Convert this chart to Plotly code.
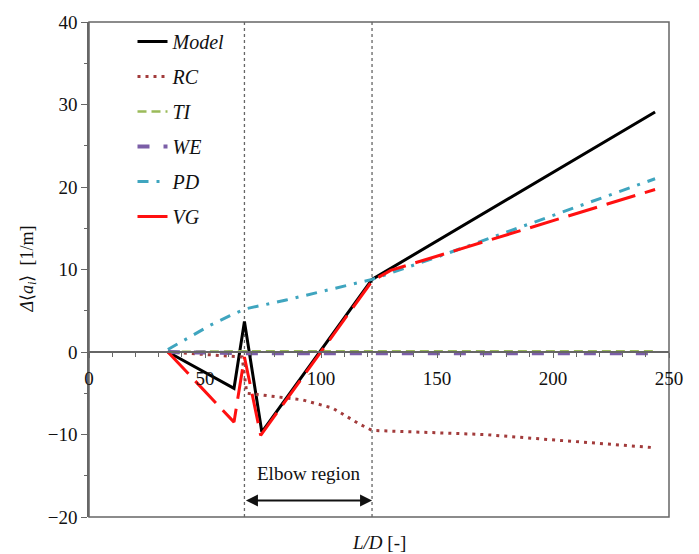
import plotly.graph_objects as go

# ---- data ----
model_x = [34, 62.5, 67, 74.5, 122, 244]
model_y = [0, -4.4, 3.7, -9.7, 8.8, 29.1]

rc_x = [34, 50, 66, 68, 80, 92, 105, 117, 122, 170, 244]
rc_y = [0, -0.3, -0.6, -5.0, -5.4, -5.8, -6.8, -8.8, -9.5, -10.0, -11.6]

ti_x = [34, 67, 122, 244]
ti_y = [0, 0.1, 0.1, 0.1]

we_x = [34, 67, 122, 244]
we_y = [0, -0.15, -0.15, -0.15]

pd_x = [34, 43.5, 52, 60.8, 67, 85, 122, 150, 244]
pd_y = [0.3, 1.8, 3.2, 4.4, 5.2, 6.3, 8.8, 11.5, 21.0]

vg_x = [34, 62.5, 67, 74, 122, 130, 244]
vg_y = [0, -8.5, -0.6, -10.1, 8.6, 9.9, 19.7]

elbow_start = 67
elbow_end = 122

x_range = [0, 250]
y_range = [-20, 40]
y_ticks = [-20, -10, 0, 10, 20, 30, 40]
x_ticks = [0, 50, 100, 150, 200, 250]

FONT = "Liberation Serif"
AXC = "#666666"

fig = go.Figure()

series = [
    ("Model", model_x, model_y, "#000000", 3, "solid"),
    ("RC", rc_x, rc_y, "#a23b3b", 3, "3px,5px"),
    ("TI", ti_x, ti_y, "#9bbb59", 2.5, "9px,5px"),
    ("WE", we_x, we_y, "#7b5ea7", 4, "12px,14px"),
    ("PD", pd_x, pd_y, "#3fa5bf", 3, "11px,8px,3px,8px"),
    ("VG", vg_x, vg_y, "#ff1010", 3, "30px,10px"),
]
for name, xs, ys, col, w, dash in series:
    fig.add_trace(go.Scatter(
        x=xs, y=ys, mode="lines", name="<i>%s</i>" % name,
        legendgroup=name,
        line=dict(color=col, width=w, dash=dash),
    ))

# vertical dotted lines for elbow region
for xv in (elbow_start, elbow_end):
    fig.add_shape(type="line", xref="x", yref="y", x0=xv, x1=xv,
                  y0=y_range[0], y1=y_range[1],
                  line=dict(color="#666666", width=1.3, dash="dot"), layer="below")

# frame (top, right, bottom)
fig.add_shape(type="rect", xref="paper", yref="paper", x0=0, x1=1, y0=0, y1=1,
              line=dict(color=AXC, width=1.5), layer="below")

# elbow arrow (double-headed) and text
fig.add_annotation(x=elbow_end, y=-18, ax=elbow_start, ay=-18,
                   xref="x", yref="y", axref="x", ayref="y",
                   showarrow=True, arrowhead=2, arrowside="end+start",
                   arrowsize=1.2, arrowwidth=2, arrowcolor="#111111", text="")
fig.add_annotation(x=(elbow_start + elbow_end) / 2, y=-14.7, xref="x", yref="y",
                   text="Elbow region", showarrow=False,
                   font=dict(family=FONT, size=19, color="#111111"))

# axis titles
fig.add_annotation(x=0.5, y=-0.052, xref="paper", yref="paper",
                   text="<i>L/D</i> [-]", showarrow=False,
                   xanchor="center", yanchor="middle",
                   font=dict(family=FONT, size=19, color="#111111"))
fig.add_annotation(x=-0.105, y=0.5, xref="paper", yref="paper",
                   text="<i>Δ</i>⟨<i>a<sub>i</sub></i>⟩  [1/m]", showarrow=False,
                   xanchor="center", yanchor="middle",
                   textangle=-90, font=dict(family=FONT, size=18, color="#111111"))

fig.update_layout(
    width=699, height=554,
    margin=dict(l=89, r=30, t=15, b=37),
    paper_bgcolor="white", plot_bgcolor="white",
    font=dict(family=FONT, size=19, color="#111111"),
    showlegend=True,
    legend=dict(x=0.075, y=1.0, xanchor="left", yanchor="top",
                bgcolor="rgba(0,0,0,0)", font=dict(family=FONT, size=20),
                traceorder="grouped", tracegroupgap=6),
    xaxis=dict(range=x_range, tickvals=x_ticks, showgrid=False, zeroline=False,
               showline=True, linecolor=AXC, linewidth=1.5,
               anchor="free", position=1/3,
               ticks="outside", ticklen=5, tickcolor=AXC, tickwidth=1.2,
               ticklabelstandoff=4,
               minor=dict(dtick=10, ticks="outside", ticklen=4, tickcolor=AXC)),
    yaxis=dict(range=y_range, tickvals=y_ticks, showgrid=False, zeroline=False,
               showline=True, linecolor=AXC, linewidth=1.5,
               ticks="outside", ticklen=6, tickcolor=AXC, tickwidth=1.2,
               minor=dict(dtick=5, ticks="outside", ticklen=3, tickcolor=AXC)),
)

fig.write_html("out.html")
